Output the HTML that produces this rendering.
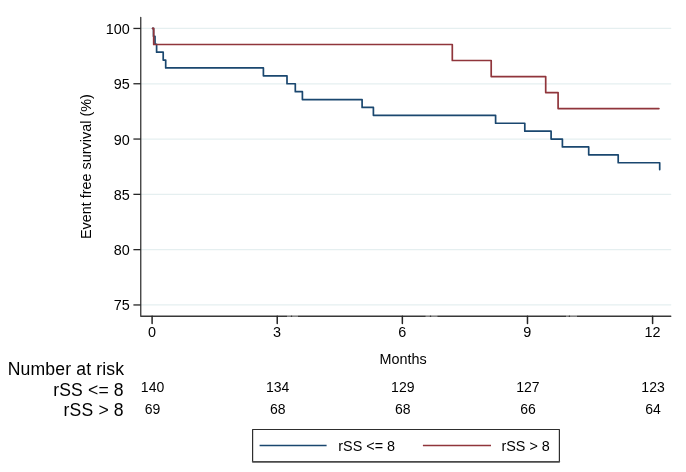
<!DOCTYPE html>
<html><head><meta charset="utf-8"><style>
html,body{margin:0;padding:0;background:#fff;width:686px;height:472px;overflow:hidden}
svg{display:block;will-change:transform;font-family:"Liberation Sans",sans-serif;fill:#000}
</style></head><body>
<svg width="686" height="472" viewBox="0 0 686 472">
<line x1="140.75" y1="28.45" x2="671.1999999999999" y2="28.45" stroke="#e5eff0" stroke-width="1.25"/>
<line x1="140.75" y1="83.75" x2="671.1999999999999" y2="83.75" stroke="#e5eff0" stroke-width="1.25"/>
<line x1="140.75" y1="139.05" x2="671.1999999999999" y2="139.05" stroke="#e5eff0" stroke-width="1.25"/>
<line x1="140.75" y1="194.35" x2="671.1999999999999" y2="194.35" stroke="#e5eff0" stroke-width="1.25"/>
<line x1="140.75" y1="249.65" x2="671.1999999999999" y2="249.65" stroke="#e5eff0" stroke-width="1.25"/>
<line x1="140.75" y1="304.95" x2="671.1999999999999" y2="304.95" stroke="#e5eff0" stroke-width="1.25"/>
<path d="M152.60,28.45 H153.50 V36.35 H155.00 V44.25 H156.60 V52.15 H163.20 V60.05 H165.70 V67.95 H263.40 V75.85 H287.00 V83.75 H295.30 V91.65 H302.40 V99.55 H362.10 V107.45 H373.40 V115.35 H495.60 V123.25 H524.80 V131.15 H551.10 V139.05 H562.40 V146.95 H588.70 V154.85 H618.20 V162.75 H659.70 V169.6" fill="none" stroke="#1a476f" stroke-width="1.7" stroke-linejoin="round" stroke-linecap="round"/>
<path d="M152.60,28.45 H153.70 V44.48 H452.30 V60.51 H491.20 V76.54 H545.70 V92.57 H558.10 V108.59 H658.90" fill="none" stroke="#90353b" stroke-width="1.7" stroke-linejoin="round" stroke-linecap="round"/>
<path d="M140.75,17.3 V316.25 H670.8" fill="none" stroke="#383838" stroke-width="1.3" stroke-linejoin="round" stroke-linecap="round"/>
<rect x="287.0" y="315.35" width="11.0" height="1.8" fill="#fff" fill-opacity="0.38"/>
<circle cx="291.5" cy="316.25" r="0.75" fill="#333"/>
<rect x="425.5" y="315.35" width="12.0" height="1.8" fill="#fff" fill-opacity="0.38"/>
<circle cx="430.5" cy="316.25" r="0.75" fill="#333"/>
<rect x="566.0" y="315.35" width="11.0" height="1.8" fill="#fff" fill-opacity="0.38"/>
<circle cx="569.4" cy="316.25" r="0.75" fill="#333"/>
<line x1="133.4" y1="28.45" x2="140.75" y2="28.45" stroke="#262626" stroke-width="1.3"/>
<text x="129.8" y="33.95" text-anchor="end" font-size="14.4">100</text>
<line x1="133.4" y1="83.75" x2="140.75" y2="83.75" stroke="#262626" stroke-width="1.3"/>
<text x="129.8" y="89.25" text-anchor="end" font-size="14.4">95</text>
<line x1="133.4" y1="139.05" x2="140.75" y2="139.05" stroke="#262626" stroke-width="1.3"/>
<text x="129.8" y="144.55" text-anchor="end" font-size="14.4">90</text>
<line x1="133.4" y1="194.35" x2="140.75" y2="194.35" stroke="#262626" stroke-width="1.3"/>
<text x="129.8" y="199.85" text-anchor="end" font-size="14.4">85</text>
<line x1="133.4" y1="249.65" x2="140.75" y2="249.65" stroke="#262626" stroke-width="1.3"/>
<text x="129.8" y="255.15" text-anchor="end" font-size="14.4">80</text>
<line x1="133.4" y1="304.95" x2="140.75" y2="304.95" stroke="#262626" stroke-width="1.3"/>
<text x="129.8" y="310.45" text-anchor="end" font-size="14.4">75</text>
<line x1="152.10" y1="316.25" x2="152.10" y2="323.4" stroke="#262626" stroke-width="1.5" stroke-linecap="round"/>
<text x="151.90" y="337.3" text-anchor="middle" font-size="14.4">0</text>
<line x1="277.23" y1="316.25" x2="277.23" y2="323.4" stroke="#262626" stroke-width="1.5" stroke-linecap="round"/>
<text x="277.03" y="337.3" text-anchor="middle" font-size="14.4">3</text>
<line x1="402.35" y1="316.25" x2="402.35" y2="323.4" stroke="#262626" stroke-width="1.5" stroke-linecap="round"/>
<text x="402.15" y="337.3" text-anchor="middle" font-size="14.4">6</text>
<line x1="527.48" y1="316.25" x2="527.48" y2="323.4" stroke="#262626" stroke-width="1.5" stroke-linecap="round"/>
<text x="527.27" y="337.3" text-anchor="middle" font-size="14.4">9</text>
<line x1="652.60" y1="316.25" x2="652.60" y2="323.4" stroke="#262626" stroke-width="1.5" stroke-linecap="round"/>
<text x="652.40" y="337.3" text-anchor="middle" font-size="14.4">12</text>
<text x="403" y="363.55" text-anchor="middle" font-size="14.4">Months</text>
<text transform="translate(91,166.6) rotate(-90)" text-anchor="middle" font-size="14.4">Event free survival (%)</text>
<text x="124.2" y="374.7" text-anchor="end" font-size="17.6" letter-spacing="0.15">Number at risk</text>
<text x="123.8" y="395.6" text-anchor="end" font-size="17.6" letter-spacing="0.15">rSS &lt;= 8</text>
<text x="123.8" y="415.9" text-anchor="end" font-size="17.6" letter-spacing="0.15">rSS &gt; 8</text>
<text x="152.55" y="392.2" text-anchor="middle" font-size="14">140</text>
<text x="152.55" y="413.6" text-anchor="middle" font-size="14">69</text>
<text x="277.68" y="392.2" text-anchor="middle" font-size="14">134</text>
<text x="277.68" y="413.6" text-anchor="middle" font-size="14">68</text>
<text x="402.80" y="392.2" text-anchor="middle" font-size="14">129</text>
<text x="402.80" y="413.6" text-anchor="middle" font-size="14">68</text>
<text x="527.93" y="392.2" text-anchor="middle" font-size="14">127</text>
<text x="527.93" y="413.6" text-anchor="middle" font-size="14">66</text>
<text x="653.05" y="392.2" text-anchor="middle" font-size="14">123</text>
<text x="653.05" y="413.6" text-anchor="middle" font-size="14">64</text>
<path d="M252.6,461.8 V429.5 H559.4 V461.8" fill="none" stroke="#2e2e2e" stroke-width="1.2" stroke-linejoin="round"/>
<line x1="252.6" y1="461.85" x2="559.4" y2="461.85" stroke="#4a4a4a" stroke-width="1.6" stroke-linecap="round"/>
<line x1="259.6" y1="445.5" x2="326.6" y2="445.5" stroke="#1a476f" stroke-width="1.7"/>
<text x="338.3" y="451.45" font-size="14.4">rSS &lt;= 8</text>
<line x1="422.9" y1="445.5" x2="491" y2="445.5" stroke="#90353b" stroke-width="1.7"/>
<text x="501.4" y="451.45" font-size="14.4">rSS &gt; 8</text>
</svg>
</body></html>
